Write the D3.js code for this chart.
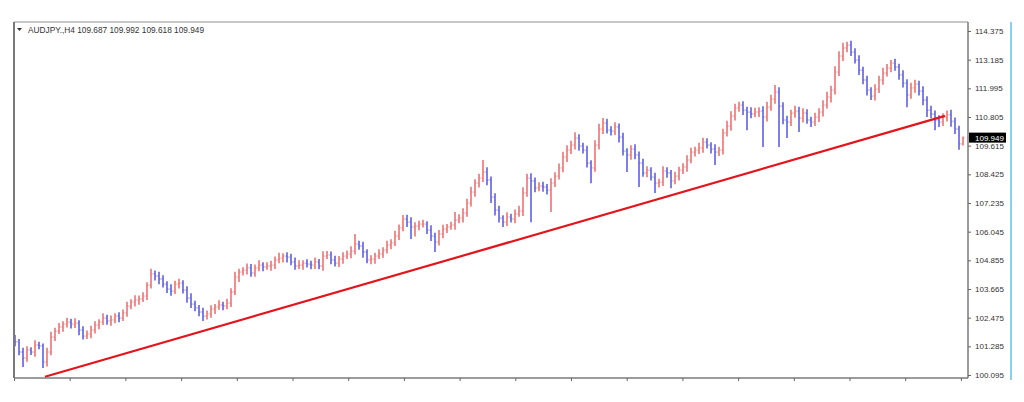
<!DOCTYPE html>
<html lang="en">
<head>
<meta charset="utf-8">
<title>AUDJPY.,H4</title>
<script src="https://d3js.org/d3.v7.min.js"></script>
<style>
body { margin: 0; background: #fff; }
svg text { font-family: "Liberation Sans", Arial, sans-serif; font-size: 8px; fill: #333; }
</style>
</head>
<body>
<script>
// AUDJPY H4 bars, open of each bar = previous close
var symbol = "AUDJPY.,H4";
var firstOpen = 101.62;
var closes = [
  101.47,101.05,100.80,101.13,101.05,101.34,101.30,100.63,101.05,101.67,
  101.92,102.09,102.21,102.29,102.21,102.25,101.96,101.71,101.80,101.96,
  102.17,102.29,102.46,102.34,102.38,102.54,102.46,102.67,102.96,103.12,
  103.21,103.25,103.37,103.83,104.29,104.20,104.08,103.87,103.66,103.58,
  103.87,103.91,103.62,103.29,103.04,102.88,102.71,102.54,102.63,102.83,
  102.92,103.00,102.96,103.08,103.54,104.16,104.37,104.45,104.54,104.33,
  104.54,
  104.66,104.58,104.62,104.66,104.87,104.95,105.03,104.99,104.79,104.62,
  104.66,104.74,104.70,104.66,104.79,104.62,105.03,105.08,104.87,104.74,
  104.91,105.03,105.12,105.24,105.53,105.45,105.20,104.87,104.91,105.03,
  105.12,105.28,105.49,105.57,105.86,106.20,106.57,106.44,106.24,106.28,
  106.36,106.36,106.11,105.86,105.61,105.95,106.15,106.24,106.32,106.53,
  106.61,106.82,107.23,107.69,108.06,108.27,108.52,108.19,107.48,106.94,106.61,
  106.44,106.65,106.57,106.78,106.90,107.65,108.27,108.15,107.86,107.94,
  107.90,107.77,108.06,108.35,108.69,109.14,109.43,109.64,109.93,109.60,
  109.43,108.89,108.69,109.64,110.30,110.55,110.26,110.22,110.39,109.97,
  109.39,109.23,109.47,109.23,108.89,108.48,108.60,108.31,108.06,108.10,
  108.56,108.48,108.15,108.35,108.60,108.73,109.02,109.35,109.43,109.52,
  109.76,109.64,109.47,109.35,109.43,110.14,110.43,110.84,111.18,111.30,
  111.09,111.01,110.93,111.01,111.05,
  110.80,111.22,111.55,111.84,111.26,110.68,110.59,110.97,111.05,110.76,
  110.97,110.68,110.59,110.80,111.01,111.30,111.63,111.92,112.67,113.33,
  113.67,113.79,113.50,113.17,112.75,112.34,111.92,111.67,111.96,112.34,
  112.63,112.84,113.04,112.88,112.55,112.21,111.72,112.01,112.17,111.88,
  111.51,111.09,110.93,110.68,110.59,110.80,110.89,110.62,110.30,109.687,109.949
];
// wick lengths above / below the body, in hundredths of a yen
var upWick = [
  14,12,18,16,12,20,14,10,18,22,14,16,12,18,14,20,12,16,14,18,
  16,12,20,14,18,12,16,14,18,12,20,14,16,12,22,14,18,16,12,20,
  14,18,12,16,20,14,12,18,14,16,12,20,14,18,16,22,14,12,18,16,
  14,20,12,16,18,14,22,12,16,14,18,20,12,16,14,18,12,20,16,14,
  18,12,16,14,20,42,14,18,12,16,14,20,12,18,16,22,14,17,18,20,
  16,14,18,12,20,14,16,18,12,14,33,16,20,18,22,16,18,50,20,14,
  16,18,12,20,14,18,22,24,18,20,14,16,18,12,20,16,18,22,20,18,
  24,16,14,18,12,20,22,21,18,16,20,14,18,12,16,20,14,18,16,12,
  18,14,20,16,12,18,14,16,20,18,14,22,18,16,12,20,14,18,22,20,
  18,14,16,14,20,18,16,20,22,18,29,20,16,18,14,22,18,20,16,14,
  18,16,20,22,18,24,20,22,14,18,16,20,14,18,12,20,18,22,16,13,
  18,14,20,16,22,18,14,20,16,18,14,20,16,18,22,16,14,4.3
];
var downWick = [
  18,14,37,16,12,20,14,24,18,14,16,12,20,14,18,16,22,14,12,18,
  14,18,12,16,20,14,18,12,16,14,18,20,12,16,14,18,22,14,16,20,
  12,18,14,20,16,14,18,20,14,16,20,12,18,14,16,12,20,14,18,16,
  16,14,18,12,20,16,14,18,22,14,16,12,20,14,18,16,14,20,12,18,
  14,16,20,12,18,14,16,24,14,18,20,12,16,14,18,12,16,14,20,50,
  40,18,14,16,20,41,14,18,16,12,20,14,18,16,14,20,18,16,22,24,
  22,18,20,16,14,18,12,20,16,171,18,14,20,18,91,16,14,18,20,16,
  18,20,14,18,63,16,18,20,14,18,16,22,18,71,20,18,99,16,18,14,
  41,18,16,20,30,14,18,16,20,14,18,16,20,14,18,54,16,18,14,20,
  18,16,20,75,18,14,20,124,18,16,20,170,18,66,16,20,58,18,16,20,
  16,20,18,14,22,18,16,20,18,16,14,20,18,22,16,18,16,20,14,18,
  16,20,18,51,16,20,18,22,29,18,42,20,16,18,22,20,24,6.9
];
var priceTicks = [114.375, 113.185, 111.995, 110.805, 109.615, 108.425, 107.235,
                  106.045, 104.855, 103.665, 102.475, 101.285, 100.095];
// trendline anchors: [bar index, price]
var trendLine = [[7.5, 100.02], [232.5, 110.85]];
var timeTickStep = 13.925;

var W = 1024, H = 402;
var plotL = 14, plotR = 968, plotT = 22, plotB = 378;
var upColor = "#f08282", downColor = "#7272e6";

var bars = closes.map(function (c, i) {
  var o = i ? closes[i - 1] : firstOpen;
  return {
    i: i, o: o, c: c,
    h: Math.max(o, c) + upWick[i] / 100,
    l: Math.min(o, c) - downWick[i] / 100
  };
});

var x = d3.scaleLinear().domain([0, closes.length - 1]).range([15, 963]);
var y = d3.scaleLinear().domain([100.095, 114.375]).range([375, 31]);

var svg = d3.select("body").append("svg")
  .attr("width", W).attr("height", H);

svg.append("defs").append("clipPath").attr("id", "plot")
  .append("rect").attr("x", plotL).attr("y", plotT)
  .attr("width", plotR - plotL).attr("height", plotB - plotT);

// bars
svg.append("g").attr("clip-path", "url(#plot)")
  .selectAll("path").data(bars).enter().append("path")
  .attr("d", function (d) {
    var px = x(d.i);
    return "M" + px + "," + y(d.h) + "V" + y(d.l) +
      "M" + (px - 1.3) + "," + y(d.o) + "H" + px +
      "M" + px + "," + y(d.c) + "H" + (px + 1.3);
  })
  .attr("fill", "none")
  .attr("stroke-width", 1.8)
  .attr("stroke", function (d) { return d.c >= d.o ? upColor : downColor; });

// trendline
svg.append("path").datum(trendLine)
  .attr("clip-path", "url(#plot)")
  .attr("d", d3.line().x(function (d) { return x(d[0]); }).y(function (d) { return y(d[1]); }))
  .attr("stroke", "#e4141c").attr("stroke-width", 2.2).attr("fill", "none");

// frame
svg.append("line").attr("x1", plotL).attr("x2", plotR).attr("y1", plotT).attr("y2", plotT)
  .attr("stroke", "#b4b4b4").attr("stroke-width", 1.5);
svg.append("line").attr("x1", plotL).attr("x2", plotL).attr("y1", plotT).attr("y2", plotB)
  .attr("stroke", "#7a7a7a").attr("stroke-width", 2);
svg.append("line").attr("x1", plotR).attr("x2", plotR).attr("y1", plotT).attr("y2", plotB)
  .attr("stroke", "#7a7a7a").attr("stroke-width", 1.5);
svg.append("line").attr("x1", plotL).attr("x2", plotR).attr("y1", plotB).attr("y2", plotB)
  .attr("stroke", "#7a7a7a").attr("stroke-width", 1.5);

// price axis
var yAxis = svg.append("g").attr("transform", "translate(" + plotR + ",0)")
  .call(d3.axisRight(y).tickValues(priceTicks).tickSize(3).tickPadding(4)
    .tickFormat(d3.format(".3f")));
yAxis.select(".domain").remove();
yAxis.selectAll("line").attr("stroke", "#666");
yAxis.selectAll("text").attr("fill", "#333").style("font-size", "8px");

// time ticks
var xAxis = svg.append("g").attr("transform", "translate(0," + plotB + ")")
  .call(d3.axisBottom(x).tickValues(d3.range(-0.25, closes.length, timeTickStep))
    .tickSize(3).tickFormat(""));
xAxis.select(".domain").remove();
xAxis.selectAll("line").attr("stroke", "#666");

// last price label
var last = bars[bars.length - 1];
svg.append("rect").attr("x", plotR + 1).attr("y", y(last.c) - 5)
  .attr("width", 37).attr("height", 10).attr("fill", "#000");
svg.append("text").attr("x", plotR + 7).attr("y", y(last.c) + 3)
  .style("fill", "#fff").text(d3.format(".3f")(last.c));

// header
svg.append("path").attr("d", "M17,28H22L19.5,31Z").attr("fill", "#333");
svg.append("text").attr("x", 28).attr("y", 33).style("font-size", "8.3px")
  .text(symbol + "  " + [last.o, last.h, last.l, last.c].map(d3.format(".3f")).join(" "));

// right edge marker
svg.append("line").attr("x1", 1011).attr("x2", 1011).attr("y1", plotT).attr("y2", 380)
  .attr("stroke", "#86d2f0").attr("stroke-width", 2);
</script>
</body>
</html>
